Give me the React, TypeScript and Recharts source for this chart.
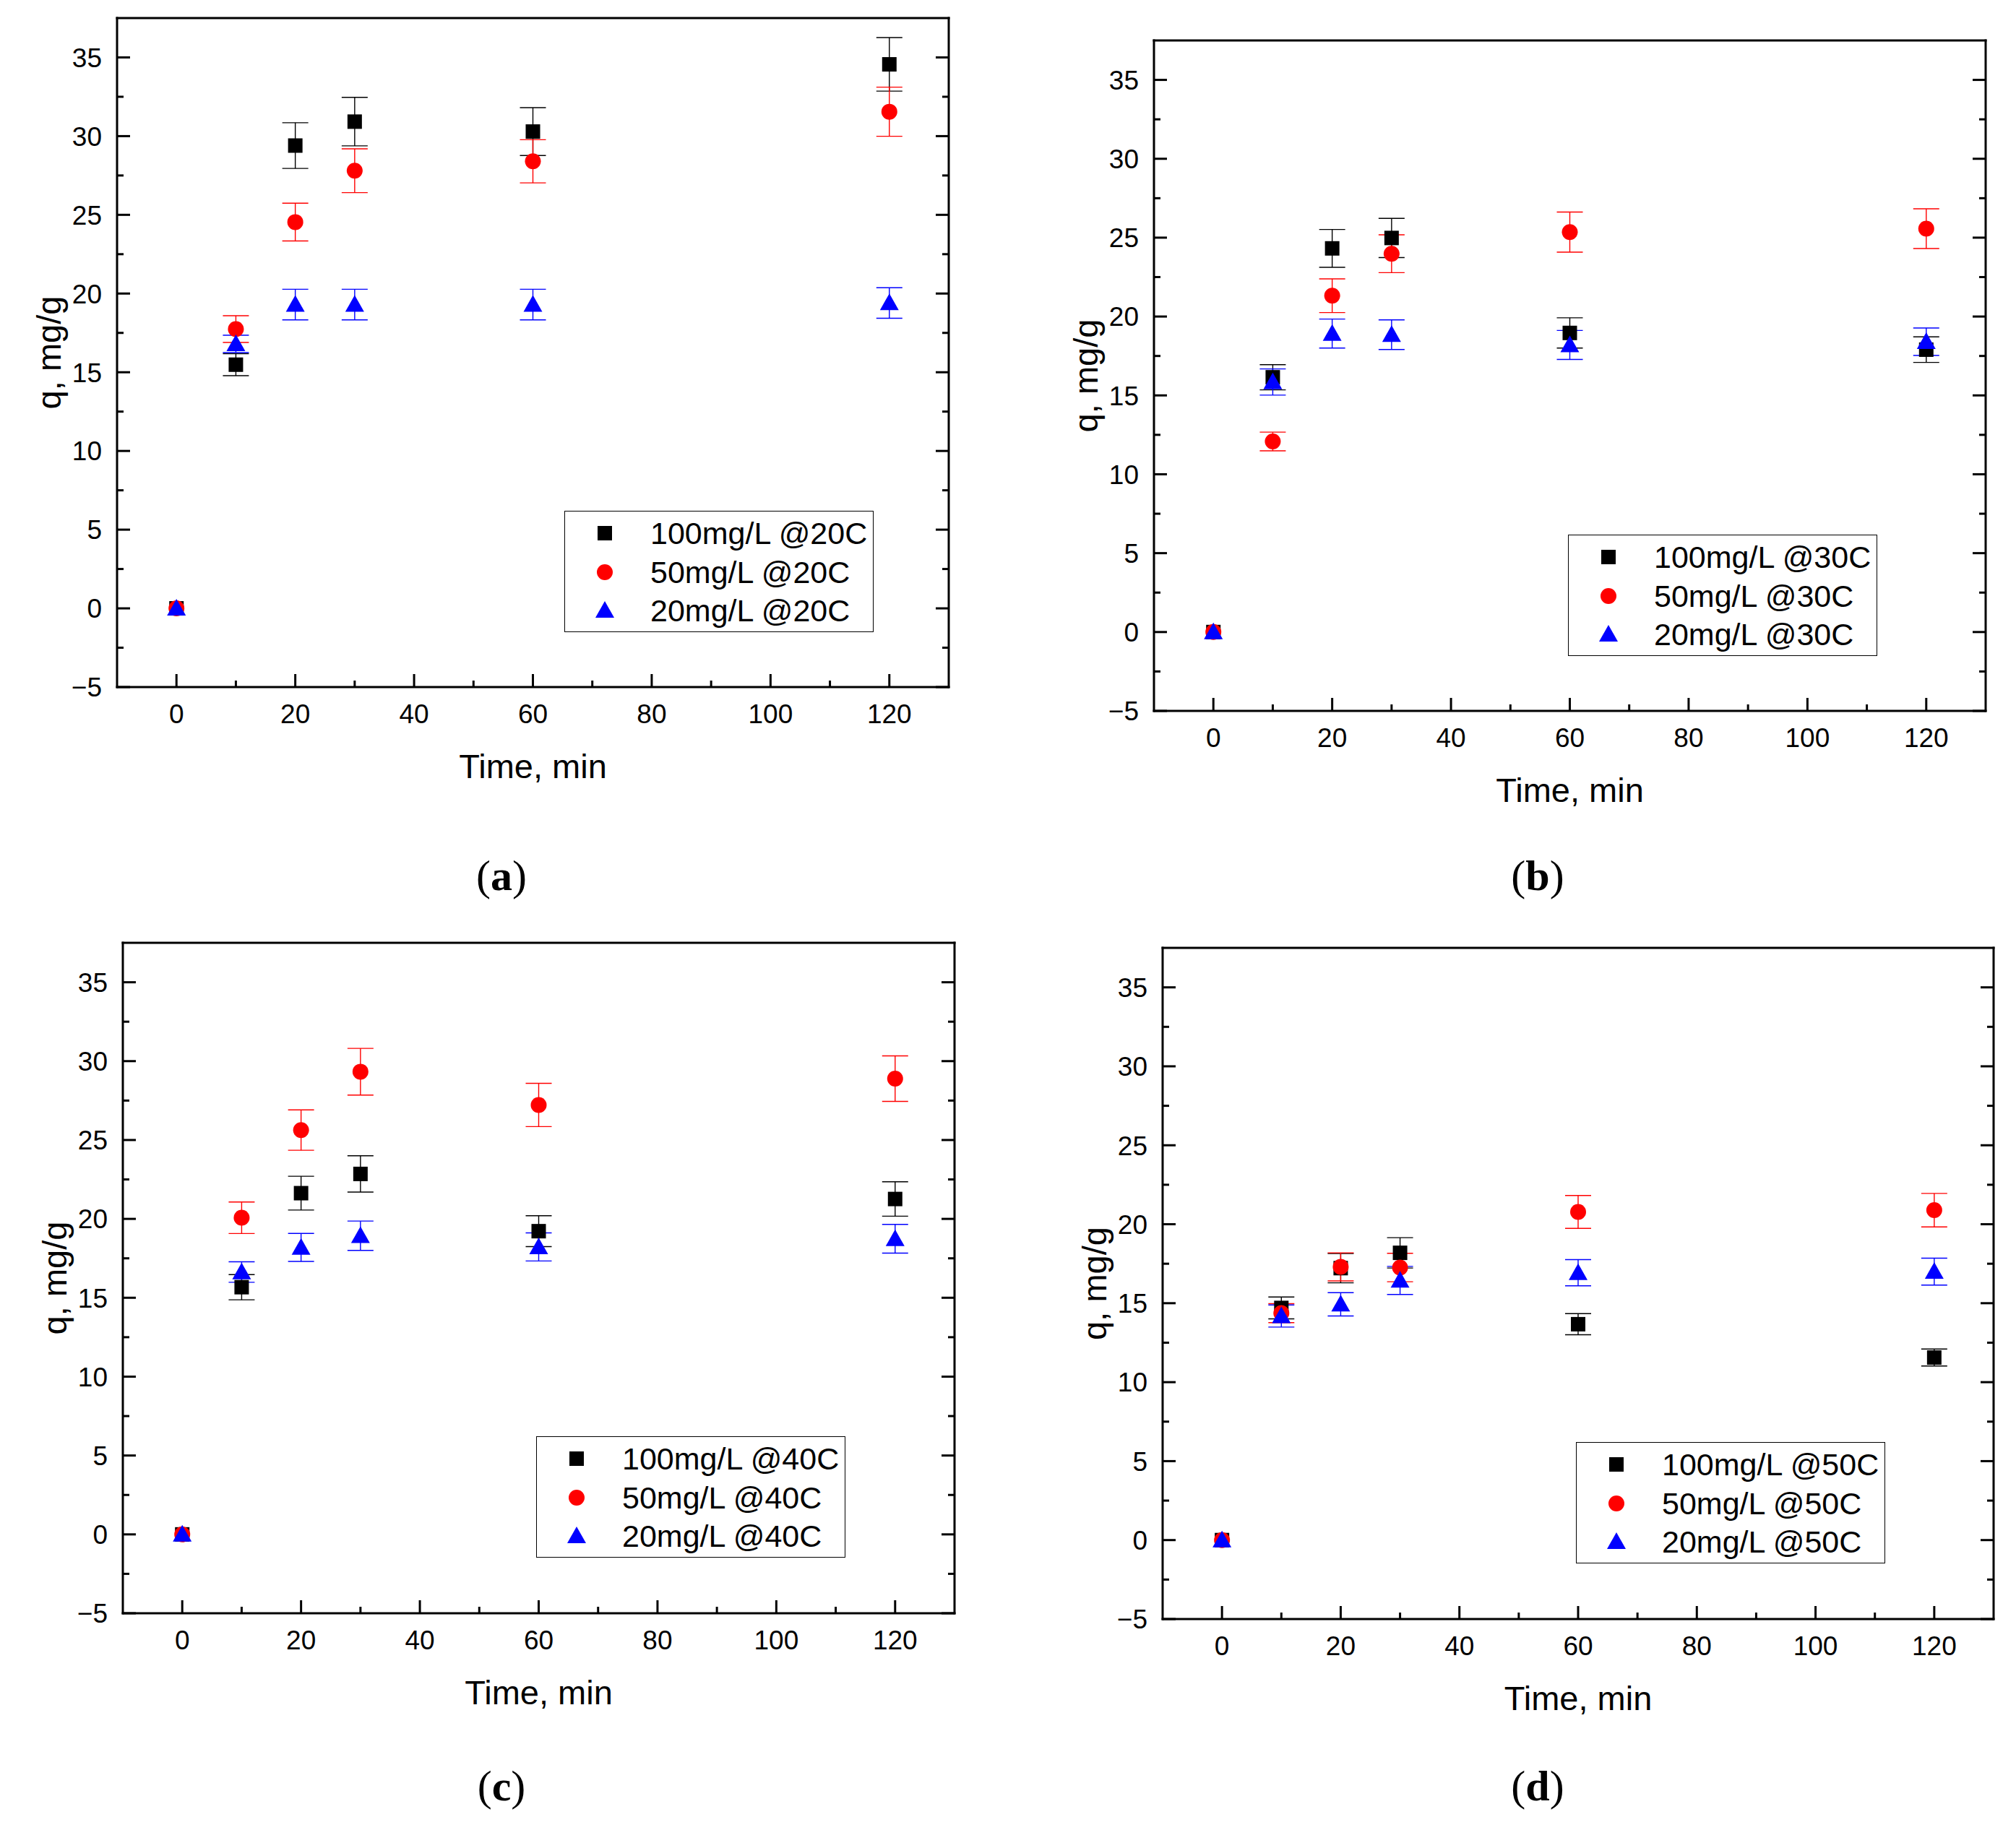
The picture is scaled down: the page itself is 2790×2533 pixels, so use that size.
import React from "react";
import { ScatterChart, Scatter, XAxis, YAxis, ErrorBar, Legend } from "recharts";

const FONT = "'Liberation Sans', Arial, sans-serif";
const SERIF = "'Liberation Serif', 'Times New Roman', serif";

// sampling times, min
const times = [0, 10, 20, 30, 60, 120];
const xTicks = [0, 10, 20, 30, 40, 50, 60, 70, 80, 90, 100, 110, 120];
const yTicks = [-5, -2.5, 0, 2.5, 5, 7.5, 10, 12.5, 15, 17.5, 20, 22.5, 25, 27.5, 30, 32.5, 35];

// (a) 20C
const q100At20 = [0, 15.48, 29.4, 30.92, 30.29, 34.56];
const e100At20 = [0, 0.7, 1.45, 1.54, 1.52, 1.7];
const q50At20 = [0, 17.74, 24.54, 27.8, 28.4, 31.55];
const e50At20 = [0, 0.85, 1.2, 1.39, 1.37, 1.56];
const q20At20 = [0, 16.8, 19.3, 19.3, 19.3, 19.4];
const e20At20 = [0, 0.55, 0.97, 0.97, 0.97, 0.97];

// (b) 30C
const q100At30 = [0, 16.15, 24.32, 24.98, 18.96, 17.9];
const e100At30 = [0, 0.8, 1.2, 1.24, 0.96, 0.81];
const q50At30 = [0, 12.08, 21.32, 23.98, 25.35, 25.57];
const e50At30 = [0, 0.59, 1.07, 1.2, 1.27, 1.26];
const q20At30 = [0, 15.85, 18.92, 18.85, 18.2, 18.4];
const e20At30 = [0, 0.83, 0.92, 0.94, 0.92, 0.87];

// (c) 40C
const q100At40 = [0, 15.67, 21.63, 22.85, 19.22, 21.26];
const e100At40 = [0, 0.8, 1.07, 1.15, 0.98, 1.09];
const q50At40 = [0, 20.07, 25.63, 29.33, 27.22, 28.89];
const e50At40 = [0, 1.0, 1.28, 1.48, 1.37, 1.44];
const q20At40 = [0, 16.63, 18.19, 18.93, 18.22, 18.74];
const e20At40 = [0, 0.65, 0.89, 0.93, 0.89, 0.91];

// (d) 50C
const q100At50 = [0, 14.7, 17.22, 18.19, 13.67, 11.56];
const e100At50 = [0, 0.69, 0.93, 0.96, 0.67, 0.54];
const q50At50 = [0, 14.37, 17.3, 17.26, 20.78, 20.89];
const e50At50 = [0, 0.6, 0.89, 0.9, 1.04, 1.06];
const q20At50 = [0, 14.19, 14.93, 16.44, 16.93, 17.0];
const e20At50 = [0, 0.7, 0.74, 0.89, 0.83, 0.85];

const toRows = (q: number[], e: number[]) => times.map((t, i) => ({ t, q: q[i], err: e[i] }));

const Square = ({ cx, cy }: any) => <rect x={cx - 10} y={cy - 10} width={20} height={20} fill="#000" />;
const Dot = ({ cx, cy }: any) => <circle cx={cx} cy={cy} r={11} fill="#ff0000" />;
const Tri = ({ cx, cy }: any) => (
  <polygon points={`${cx},${cy - 13} ${cx - 13},${cy + 10} ${cx + 13},${cy + 10}`} fill="#0000ff" />
);

const kinds = [
  { conc: "100mg/L", color: "#000", Shape: Square },
  { conc: "50mg/L", color: "#ff0000", Shape: Dot },
  { conc: "20mg/L", color: "#0000ff", Shape: Tri },
];

const fmt = (v: number) => (v < 0 ? "\u2212" + Math.abs(v) : String(v));

const BottomTick = ({ x, y, payload }: any) => {
  const major = payload.value % 20 === 0;
  return (
    <g>
      <line x1={x} y1={y} x2={x} y2={y - (major ? 18 : 9)} stroke="#000" strokeWidth={3} />
      {major && (
        <text x={x} y={y + 37} dy="0.36em" textAnchor="middle" fontSize={37} fontFamily={FONT} fill="#000">
          {payload.value}
        </text>
      )}
    </g>
  );
};

const TopTick = ({ x, y, payload }: any) => {
  const major = payload.value % 20 === 0;
  return <line x1={x} y1={y} x2={x} y2={y + (major ? 18 : 9)} stroke="#000" strokeWidth={3} />;
};

const LeftTick = ({ x, y, payload }: any) => {
  const major = Number.isInteger(payload.value / 5);
  return (
    <g>
      <line x1={x} y1={y} x2={x + (major ? 18 : 9)} y2={y} stroke="#000" strokeWidth={3} />
      {major && (
        <text x={x - 21} y={y} dy="0.36em" textAnchor="end" fontSize={37} fontFamily={FONT} fill="#000">
          {fmt(payload.value)}
        </text>
      )}
    </g>
  );
};

const RightTick = ({ x, y, payload }: any) => {
  const major = Number.isInteger(payload.value / 5);
  return <line x1={x} y1={y} x2={x - (major ? 18 : 9)} y2={y} stroke="#000" strokeWidth={3} />;
};

const xTitle = (p: any) => {
  const vb = p.viewBox;
  if (!vb) return null;
  return (
    <text x={vb.x + vb.width / 2} y={vb.y + 109} dy="0.36em" textAnchor="middle" fontSize={47} fontFamily={FONT} fill="#000">
      Time, min
    </text>
  );
};

const yTitle = (p: any) => {
  const vb = p.viewBox;
  if (!vb) return null;
  const cx = vb.x + vb.width - 95;
  const cy = vb.y + vb.height / 2;
  return (
    <text x={cx} y={cy} dy="0.36em" textAnchor="middle" fontSize={47} fontFamily={FONT} fill="#000" transform={`rotate(-90, ${cx}, ${cy})`}>
      q, mg/g
    </text>
  );
};

const rowY = [30, 84, 137];

const LegendBox = ({ temp }: { temp: string }) => (
  <div
    style={{
      width: 428,
      height: 168,
      border: "1.5px solid #000",
      boxSizing: "border-box",
      background: "#fff",
      position: "relative",
      fontFamily: FONT,
      fontSize: 43,
      color: "#000",
    }}
  >
    {kinds.map((k, i) => (
      <div key={k.conc} style={{ position: "absolute", left: 0, top: rowY[i] - 27, height: 54, display: "flex", alignItems: "center" }}>
        <svg width={110} height={54} style={{ display: "block" }}>
          <k.Shape cx={55} cy={27} />
        </svg>
        <span style={{ marginLeft: 8, lineHeight: "54px", whiteSpace: "nowrap" }}>{`${k.conc} @${temp}`}</span>
      </div>
    ))}
  </div>
);

const W = 1395;
const H = 1266;
const YW = 150;
const XH = 150;

interface PanelProps {
  ox: number;
  oy: number;
  plot: { l: number; t: number; r: number; b: number };
  legend: { left: number; top: number };
  temp: string;
  series: { q: number[]; e: number[] }[];
  tag: string;
  tagPos: { x: number; y: number };
}

const frame = { stroke: "#000", strokeWidth: 3, strokeLinecap: "square" };

const Panel = ({ ox, oy, plot, legend, temp, series, tag, tagPos }: PanelProps) => {
  // top and right axes are 1px deep so that they get drawn
  const margin = {
    top: plot.t - oy - 1,
    left: plot.l - ox - YW,
    right: ox + W - plot.r - 1,
    bottom: oy + H - plot.b - XH,
  };
  return (
    <>
      <div style={{ position: "absolute", left: ox, top: oy, width: W, height: H }}>
        <ScatterChart width={W} height={H} margin={margin}>
          <XAxis
            dataKey="t"
            type="number"
            domain={[-10, 130]}
            allowDataOverflow
            ticks={xTicks}
            interval={0}
            height={XH}
            tickSize={0}
            tickMargin={0}
            tick={BottomTick}
            axisLine={frame}
            label={xTitle}
          />
          <XAxis
            xAxisId="top"
            orientation="top"
            type="number"
            domain={[-10, 130]}
            allowDataOverflow
            ticks={xTicks}
            interval={0}
            height={1}
            tickSize={0}
            tickMargin={0}
            tick={TopTick}
            axisLine={frame}
          />
          <YAxis
            dataKey="q"
            type="number"
            domain={[-5, 37.5]}
            allowDataOverflow
            ticks={yTicks}
            interval={0}
            width={YW}
            tickSize={0}
            tickMargin={0}
            tick={LeftTick}
            axisLine={frame}
            label={yTitle}
          />
          <YAxis
            yAxisId="right"
            orientation="right"
            type="number"
            domain={[-5, 37.5]}
            allowDataOverflow
            ticks={yTicks}
            interval={0}
            width={1}
            tickSize={0}
            tickMargin={0}
            tick={RightTick}
            axisLine={frame}
          />
          <Legend
            layout="vertical"
            align="center"
            verticalAlign="middle"
            content={() => <LegendBox temp={temp} />}
            wrapperStyle={{ left: legend.left, top: legend.top, width: 428, height: 168 }}
          />
          {series.map((s, i) => {
            const k = kinds[i];
            return (
              <Scatter
                key={k.conc}
                name={`${k.conc} @${temp}`}
                data={toRows(s.q, s.e)}
                isAnimationActive={false}
                shape={(p: any) => <k.Shape cx={p.cx} cy={p.cy} />}
              >
                <ErrorBar dataKey="err" direction="y" width={18} strokeWidth={1.4} stroke={k.color} />
              </Scatter>
            );
          })}
        </ScatterChart>
      </div>
      <div
        style={{
          position: "absolute",
          left: tagPos.x - 100,
          top: tagPos.y - 40,
          width: 200,
          height: 80,
          lineHeight: "80px",
          textAlign: "center",
          fontFamily: SERIF,
          fontSize: 60,
          color: "#000",
        }}
      >
        (<b>{tag}</b>)
      </div>
    </>
  );
};

export default function App() {
  return (
    <div style={{ position: "absolute", left: 0, top: 0, width: 2790, height: 2533, background: "#fff", overflow: "hidden" }}>
      <Panel
        ox={0}
        oy={0}
        plot={{ l: 162, t: 25, r: 1313, b: 951 }}
        legend={{ left: 781, top: 707 }}
        temp="20C"
        series={[
          { q: q100At20, e: e100At20 },
          { q: q50At20, e: e50At20 },
          { q: q20At20, e: e20At20 },
        ]}
        tag="a"
        tagPos={{ x: 694, y: 1212 }}
      />
      <Panel
        ox={1395}
        oy={0}
        plot={{ l: 1597, t: 56, r: 2748, b: 984 }}
        legend={{ left: 775, top: 740 }}
        temp="30C"
        series={[
          { q: q100At30, e: e100At30 },
          { q: q50At30, e: e50At30 },
          { q: q20At30, e: e20At30 },
        ]}
        tag="b"
        tagPos={{ x: 2128, y: 1212 }}
      />
      <Panel
        ox={0}
        oy={1266}
        plot={{ l: 170, t: 1305, r: 1321, b: 2233 }}
        legend={{ left: 742, top: 722 }}
        temp="40C"
        series={[
          { q: q100At40, e: e100At40 },
          { q: q50At40, e: e50At40 },
          { q: q20At40, e: e20At40 },
        ]}
        tag="c"
        tagPos={{ x: 694, y: 2472 }}
      />
      <Panel
        ox={1395}
        oy={1266}
        plot={{ l: 1609, t: 1312, r: 2759, b: 2241 }}
        legend={{ left: 786, top: 730 }}
        temp="50C"
        series={[
          { q: q100At50, e: e100At50 },
          { q: q50At50, e: e50At50 },
          { q: q20At50, e: e20At50 },
        ]}
        tag="d"
        tagPos={{ x: 2128, y: 2472 }}
      />
    </div>
  );
}
